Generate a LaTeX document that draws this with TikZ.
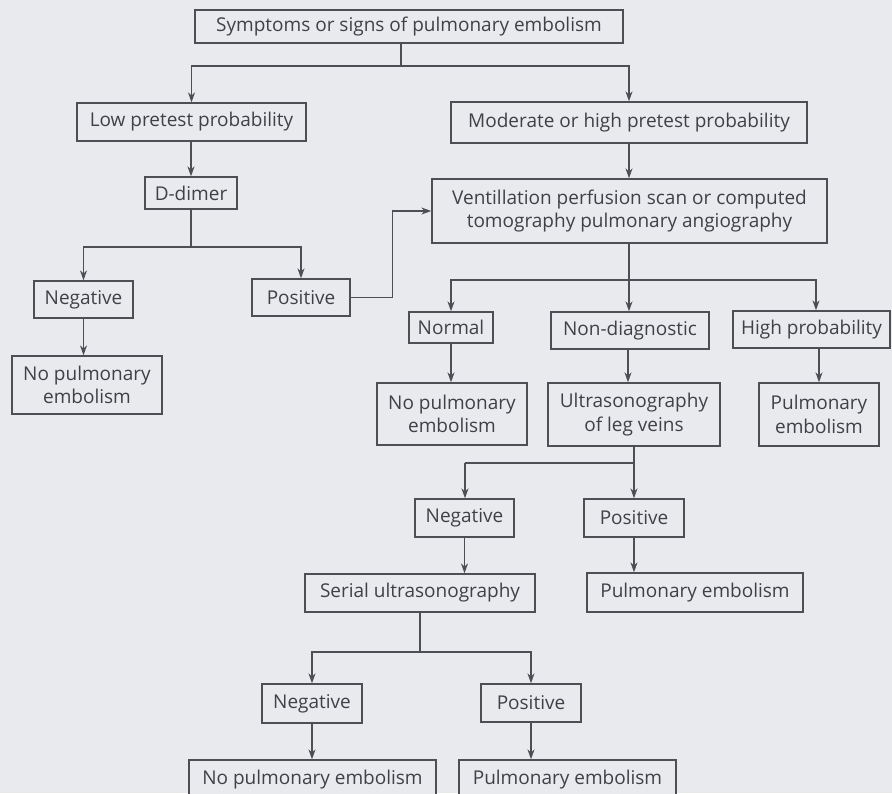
\documentclass[tikz,border=0pt]{standalone}
\usepackage{fontspec}
\setmainfont{Open Sans}
\usetikzlibrary{arrows.meta}
\definecolor{bg}{HTML}{E8EAED}
\definecolor{edge}{HTML}{4E4E55}
\definecolor{txt}{HTML}{404048}
\tikzset{
  box/.style={draw=edge, line width=1.3pt, fill=bg, text=txt, inner sep=0pt, align=center,
    font=\fontsize{19}{23.5}\selectfont},
  conn/.style={draw=edge, line width=1.3pt},
  arr/.style={conn, -{Stealth[length=10pt,width=7pt]}}
}
\begin{document}
\begin{tikzpicture}[x=1pt,y=-1pt]
\fill[bg] (0,0) rectangle (892,793);
\useasboundingbox (0,0) rectangle (892,793);
\clip (0,0) rectangle (892,793);

\node[box, minimum width=428pt, minimum height=33pt] (top) at (409,26.5) {Symptoms or signs of pulmonary embolism};
\node[box, minimum width=229pt, minimum height=38pt] (low) at (191.5,122) {Low pretest probability};
\node[box, minimum width=356pt, minimum height=41pt] (mod) at (629,122.5) {Moderate or high pretest probability};
\node[box, minimum width=92pt, minimum height=32pt] (dd) at (191,193) {D-dimer};
\node[box, minimum width=99pt, minimum height=37pt] (neg1) at (83.5,299.5) {Negative};
\node[box, minimum width=98pt, minimum height=37pt] (pos1) at (301,297.5) {Positive};
\node[box, minimum width=150pt, minimum height=58pt] (nope1) at (87,385) {No pulmonary\\embolism};
\node[box, minimum width=395pt, minimum height=64pt] (vps) at (629.5,211) {Ventillation perfusion scan or computed\\tomography pulmonary angiography};
\node[box, minimum width=84pt, minimum height=31pt] (normal) at (451,327.5) {Normal};
\node[box, minimum width=158pt, minimum height=37pt] (nondiag) at (630,330.5) {Non-diagnostic};
\node[box, minimum width=157pt, minimum height=37pt] (highp) at (811.5,329.5) {High probability};
\node[box, minimum width=150pt, minimum height=62pt] (nope2) at (452,414) {No pulmonary\\embolism};
\node[box, minimum width=172pt, minimum height=63pt] (ultra) at (634,414.5) {Ultrasonography\\of leg veins};
\node[box, minimum width=120pt, minimum height=63pt] (pe1) at (819,414.5) {Pulmonary\\embolism};
\node[box, minimum width=99pt, minimum height=38pt] (neg2) at (464.5,518) {Negative};
\node[box, minimum width=100pt, minimum height=38pt] (pos2) at (634,518) {Positive};
\node[box, minimum width=230pt, minimum height=38pt] (serial) at (420,593) {Serial ultrasonography};
\node[box, minimum width=216pt, minimum height=39pt] (pe2) at (695,592.5) {Pulmonary embolism};
\node[box, minimum width=100pt, minimum height=39pt] (neg3) at (312,703.5) {Negative};
\node[box, minimum width=100pt, minimum height=38pt] (pos3) at (531,703) {Positive};
\node[box, minimum width=247pt, minimum height=40pt] (nope3) at (312.5,780) {No pulmonary embolism};
\node[box, minimum width=217pt, minimum height=40pt] (pe3) at (567.5,780) {Pulmonary embolism};

% top split
\coordinate (j1) at (401,66);
\draw[conn] (top.south -| j1) -- (j1);
\draw[arr] (j1) -| (low.north);
\draw[arr] (j1) -| (mod.north);
% low branch
\draw[arr] (dd.north |- low.south) -- (dd.north);
\coordinate (j2) at (191,247);
\draw[conn] (dd.south) -- (j2);
\draw[arr] (j2) -| (neg1.north);
\draw[arr] (j2) -| (pos1.north);
\draw[arr] (neg1.south) -- (neg1.south |- nope1.north);
\draw[arr] (pos1.east) -- ++(42,0) |- (vps.west);
% moderate branch
\draw[arr] (mod.south) -- (mod.south |- vps.north);
\coordinate (j3) at (629,280);
\draw[conn] (vps.south -| j3) -- (j3);
\draw[arr] (j3) -| (normal.north);
\draw[arr] (j3) -- (j3 |- nondiag.north);
\draw[arr] (j3) -| ([xshift=4.5pt]highp.north);
\draw[arr] (normal.south) -- (normal.south |- nope2.north);
\draw[arr] ([xshift=-2pt]nondiag.south) -- ([xshift=-2pt]nondiag.south |- ultra.north);
\draw[arr] (highp.south -| pe1.north) -- (pe1.north);
% ultrasonography
\coordinate (j4) at (465,463);
\draw[conn] (ultra.south) -- (ultra.south |- j4) -- (j4);
\draw[arr] (j4) -- (j4 |- neg2.north);
\draw[arr] (ultra.south |- j4) -- (pos2.north);
\draw[arr] (neg2.south) -- (neg2.south |- serial.north);
\draw[arr] (pos2.south) -- (pos2.south |- pe2.north);
% serial
\coordinate (j5) at (420,652);
\draw[conn] (serial.south) -- (j5);
\draw[arr] (j5) -| (neg3.north);
\draw[arr] (j5) -| (pos3.north);
\draw[arr] (neg3.south) -- (neg3.south |- nope3.north);
\draw[arr] (pos3.south) -- (pos3.south |- pe3.north);
\end{tikzpicture}
\end{document}
